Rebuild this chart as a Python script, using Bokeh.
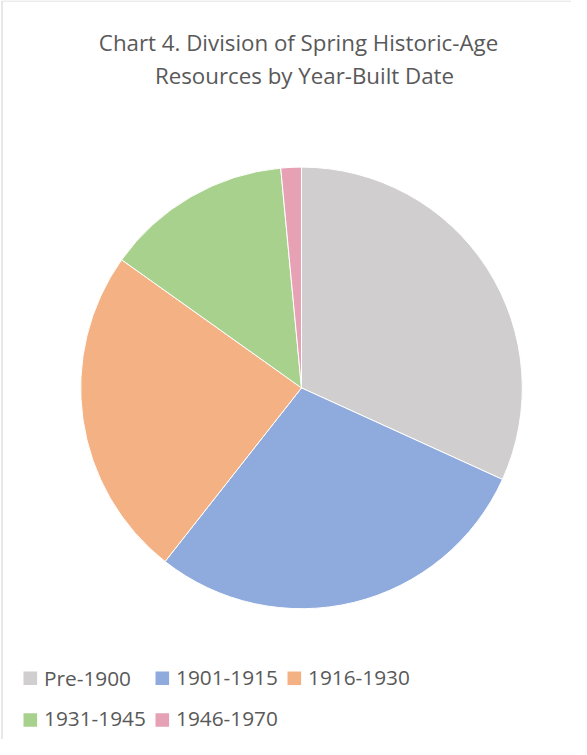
import math
from bokeh.plotting import figure
from bokeh.models import Range1d, ColumnDataSource
from bokeh.core.properties import value
from bokeh.embed import file_html
from bokeh.resources import INLINE

# ---- data ----
categories = ["Pre-1900", "1901-1915", "1916-1930", "1931-1945", "1946-1970"]
shares = [31.8, 28.8, 24.25, 13.65, 1.5]
colors = ["#D0CECE", "#8FAADC", "#F4B183", "#A9D18E", "#E6A1B5"]
title_lines = ["Chart 4. Division of Spring Historic-Age", "Resources by Year-Built Date"]

W, H = 571, 739
p = figure(width=W, height=H, output_backend="svg", toolbar_location=None,
           x_range=Range1d(0, W), y_range=Range1d(0, H),
           x_axis_type=None, y_axis_type=None, min_border=0,
           outline_line_color=None, background_fill_color="white",
           border_fill_color="white")
p.grid.visible = False

def sy(screen_y):
    return H - (screen_y - 8)

def sx(screen_x):
    return screen_x - 8

# chart-area border (top and left, as in the reference)
p.segment(x0=[sx(9.5), sx(9.5)], y0=[sy(8.5), sy(8.5)], x1=[W, sx(9.5)], y1=[sy(8.5), 0],
          line_color="#D9D9D9", line_width=1.2)

# pie
total = sum(shares)
starts, ends = [], []
cum = 0.0
for s in shares:
    starts.append(math.pi / 2 - cum / total * 2 * math.pi)
    cum += s
    ends.append(math.pi / 2 - cum / total * 2 * math.pi)
src = ColumnDataSource(dict(start=starts, end=ends, color=colors, cat=categories))
p.wedge(x=sx(309), y=sy(395.4), radius=220.8, start_angle="start", end_angle="end",
        direction="clock", fill_color="color", line_color="white", line_width=1,
        source=src)

# title
p.text(x=[sx(306), sx(312)], y=[sy(50), sy(83)], text=title_lines,
       text_align="center", text_baseline="middle", text_color="#595959",
       text_font=value("Open Sans"), text_font_size="22.3px")

# legend
leg_x = [31, 163, 295, 31, 163]
leg_y = [685.8, 685.8, 685.8, 727.5, 727.5]
p.rect(x=[sx(x + 6.8) for x in leg_x], y=[sy(y) for y in leg_y], width=13.6, height=13.6,
       fill_color=colors, line_color=None)
p.text(x=[sx(x + 20.5) for x in leg_x], y=[sy(y - 0.8) for y in leg_y], text=categories,
       text_align="left", text_baseline="middle", text_color="#595959",
       text_font=value("Open Sans"), text_font_size="20.8px")

open("out.html", "w").write(file_html(p, INLINE))
